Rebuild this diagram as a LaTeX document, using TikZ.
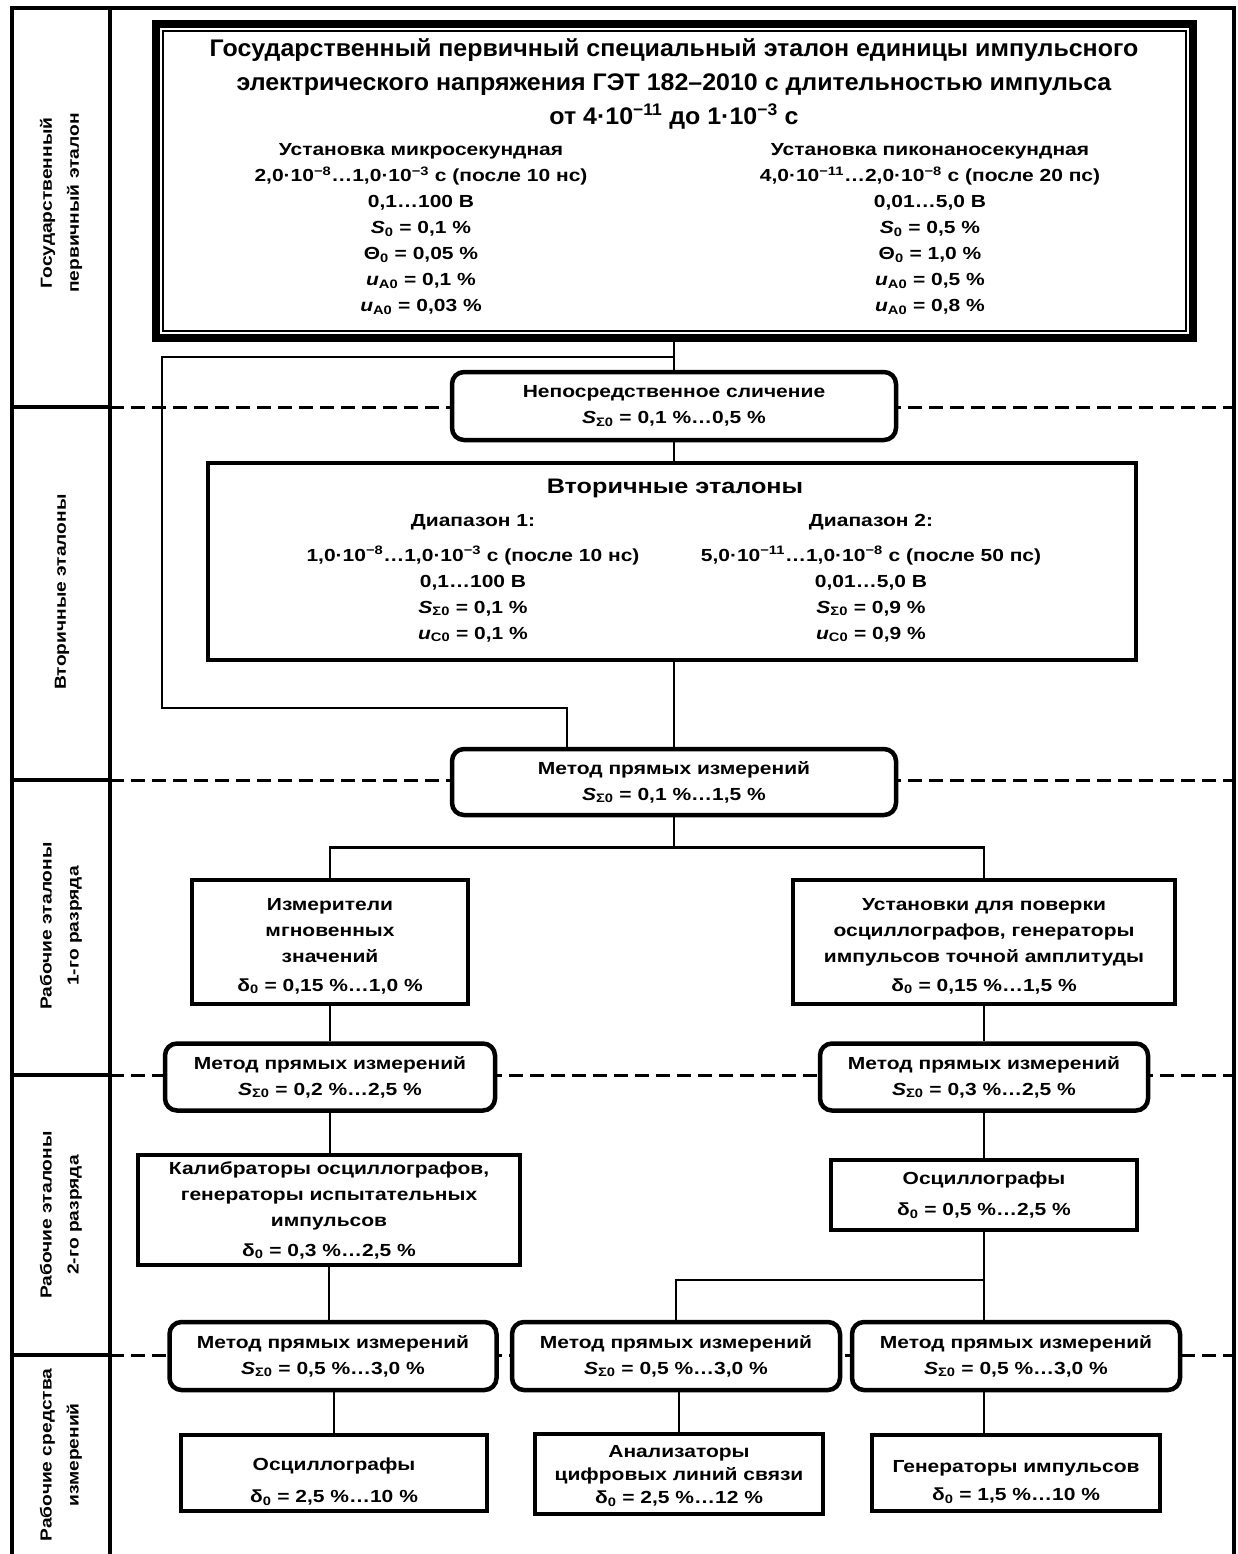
\documentclass[tikz,border=0pt]{standalone}
\usepackage{fontspec}
\setmainfont{Liberation Sans}[FakeStretch=1.2]
\newfontfamily\mytitlefont{Liberation Sans}[FakeStretch=1.04]
\newcommand\myTitle{\mytitlefont\fontsize{24}{34}\selectfont}
\newcommand\mySub{\fontsize{17.5}{26}\selectfont}
\newcommand\myBox{\fontsize{17.5}{26}\selectfont}
\newcommand\myBig{\fontsize{21}{26}\selectfont}
\newcommand\myLab{\fontsize{16}{27}\selectfont}
\newcommand\mysb[1]{\textsubscript{#1}}
\newcommand\mysp[1]{\textsuperscript{#1}}
\newcommand\mySS{\textit{S}\mysb{Σ0}}
\newcommand\mydO{δ\mysb{0}}
\begin{document}
\begin{tikzpicture}[x=1pt,y=-1pt,
  every node/.style={font=\bfseries},
  box/.style={draw, line width=4pt, fill=white, inner sep=0pt, align=center},
  rbox/.style={box, line width=4.5pt, rounded corners=12pt},
  txt/.style={align=center, inner sep=0pt},
  conn/.style={line width=2.5pt},
  sepline/.style={line width=3pt, dash pattern=on 14pt off 7pt},
  frame/.style={line width=4.5pt},
  lab/.style={rotate=90, align=center, font=\bfseries\myLab},
]
\useasboundingbox (0,0) rectangle (1238,1554);

% dashed level separators
\foreach \yy in {407,780,1075,1355}{
  \draw[sepline] (110,\yy) -- (1234,\yy);
  \draw[frame] (12,\yy) -- (110,\yy);
}
% frame
\draw[frame] (12,1554) -- (12,8) -- (1234,8) -- (1234,1554);
\draw[frame] (110,8) -- (110,1554);

% level labels
\node[lab] (l1) at (61,203) {Государственный\\первичный эталон};
\node[lab] (l2) at (62,592) {Вторичные эталоны};
\node[lab] (l3) at (61,926) {Рабочие эталоны\\1-го разряда};
\node[lab] (l4) at (61,1215) {Рабочие эталоны\\2-го разряда};
\node[lab] (l5) at (61,1455) {Рабочие средства\\измерений};

% primary standard
\node[draw, line width=8pt, fill=white, minimum width=1037pt, minimum height=314pt, inner sep=0pt] (main) at (674.5,181) {};
\draw[line width=2pt] ([shift={(11,11)}]main.north west) rectangle ([shift={(-11,-11)}]main.south east);
\node[align=center, font=\bfseries\myTitle] (title) at (674,84)
 {Государственный первичный специальный эталон единицы импульсного\\
  электрического напряжения ГЭТ 182–2010 с длительностью импульса\\
  от 4·10\mysp{−11} до 1·10\mysp{−3} с};
\node[align=center, font=\bfseries\mySub] (pl) at (421,229)
 {Установка микросекундная\\
  2,0·10\mysp{−8}…1,0·10\mysp{−3} с (после 10 нс)\\
  0,1…100 В\\
  \textit{S}\mysb{0} = 0,1 \%\\
  Θ\mysb{0} = 0,05 \%\\
  \textit{u}\mysb{A0} = 0,1 \%\\
  \textit{u}\mysb{A0} = 0,03 \%};
\node[align=center, font=\bfseries\mySub] (pr) at (930,229)
 {Установка пиконаносекундная\\
  4,0·10\mysp{−11}…2,0·10\mysp{−8} с (после 20 пс)\\
  0,01…5,0 В\\
  \textit{S}\mysb{0} = 0,5 \%\\
  Θ\mysb{0} = 1,0 \%\\
  \textit{u}\mysb{A0} = 0,5 \%\\
  \textit{u}\mysb{A0} = 0,8 \%};

% direct comparison
\node[rbox, minimum width=444pt, minimum height=68pt, font=\bfseries\myBox] (nep) at (674,406)
 {Непосредственное сличение\\ \mySS{} = 0,1 \%…0,5 \%};

% secondary standards
\node[box, minimum width=928pt, minimum height=197pt] (sec) at (672,561.5) {};
\node[font=\bfseries\myBig] (sect) at (675,488) {Вторичные эталоны};
\node[align=center, font=\bfseries\mySub] (r1) at (473,578)
 {Диапазон 1:\\[9pt]
  1,0·10\mysp{−8}…1,0·10\mysp{−3} с (после 10 нс)\\
  0,1…100 В\\
  \mySS{} = 0,1 \%\\
  \textit{u}\mysb{C0} = 0,1 \%};
\node[align=center, font=\bfseries\mySub] (r2) at (871,578)
 {Диапазон 2:\\[9pt]
  5,0·10\mysp{−11}…1,0·10\mysp{−8} с (после 50 пс)\\
  0,01…5,0 В\\
  \mySS{} = 0,9 \%\\
  \textit{u}\mysb{C0} = 0,9 \%};

% method 1
\node[rbox, minimum width=444pt, minimum height=66pt, font=\bfseries\myBox] (m1) at (674,782)
 {Метод прямых измерений\\ \mySS{} = 0,1 \%…1,5 \%};

% working standards 1st grade
\node[box, minimum width=276pt, minimum height=124pt] (izm) at (330,942) {};
\node[txt, font=\bfseries\mySub] (izmt) at ([yshift=-4]izm.center)
 {Измерители\\мгновенных\\значений\\[3pt] \mydO{} = 0,15 \%…1,0 \%};
\node[box, minimum width=382pt, minimum height=124pt] (ust) at (984,942) {};
\node[txt, font=\bfseries\mySub] (ustt) at ([yshift=-4]ust.center)
 {Установки для поверки\\осциллографов, генераторы\\импульсов точной амплитуды\\[3pt] \mydO{} = 0,15 \%…1,5 \%};

\node[rbox, minimum width=330pt, minimum height=67pt, font=\bfseries\myBox] (m2l) at (330,1077)
 {Метод прямых измерений\\ \mySS{} = 0,2 \%…2,5 \%};
\node[rbox, minimum width=328pt, minimum height=67pt, font=\bfseries\myBox] (m2r) at (984,1077)
 {Метод прямых измерений\\ \mySS{} = 0,3 \%…2,5 \%};

% working standards 2nd grade
\node[box, minimum width=382pt, minimum height=110pt, font=\bfseries\mySub] (kal) at (329,1210)
 {Калибраторы осциллографов,\\генераторы испытательных\\импульсов\\[4pt] \mydO{} = 0,3 \%…2,5 \%};
\node[box, minimum width=306pt, minimum height=70pt, font=\bfseries\mySub] (osc1) at (984,1195)
 {Осциллографы\\[5pt] \mydO{} = 0,5 \%…2,5 \%};

\node[rbox, minimum width=327pt, minimum height=68pt, font=\bfseries\myBox] (m3l) at (333,1356)
 {Метод прямых измерений\\ \mySS{} = 0,5 \%…3,0 \%};
\node[rbox, minimum width=328pt, minimum height=68pt, font=\bfseries\myBox] (m3m) at (676,1356)
 {Метод прямых измерений\\ \mySS{} = 0,5 \%…3,0 \%};
\node[rbox, minimum width=328pt, minimum height=68pt, font=\bfseries\myBox] (m3r) at (1016,1356)
 {Метод прямых измерений\\ \mySS{} = 0,5 \%…3,0 \%};

% working measuring instruments
\node[box, minimum width=306pt, minimum height=76pt] (b1) at (334,1473) {};
\node[txt, font=\bfseries\mySub] (b1t) at ([yshift=-9]b1.center)
 {Осциллографы\\[6pt] \mydO{} = 2,5 \%…10 \%};
\node[box, minimum width=288pt, minimum height=80pt] (b2) at (679,1474) {};
\node[txt, font=\bfseries\fontsize{17.5}{23}\selectfont] (b2t) at ([yshift=-2]b2.center)
 {Анализаторы\\цифровых линий связи\\ \mydO{} = 2,5 \%…12 \%};
\node[box, minimum width=288pt, minimum height=76pt] (b3) at (1016,1473) {};
\node[txt, font=\bfseries\fontsize{17.5}{28}\selectfont] (b3t) at ([yshift=-9]b3.center)
 {Генераторы импульсов\\ \mydO{} = 1,5 \%…10 \%};

% connectors
\coordinate (br) at (nep.north |- 0,357);
\draw[conn] (main.south -| nep.north) -- (nep.north);
\draw[conn] (br) -| (162,708) -| ([xshift=-107pt]m1.north);
\draw[conn] (nep.south) -- (nep.south |- sec.north);
\draw[conn] (sec.south -| m1.north) -- (m1.north);
\draw[conn] (m1.south) -- ++(0,30) coordinate (j1);
\draw[conn] (izm.north) |- (j1) -| (ust.north);
\draw[conn] (izm.south) -- (izm.south |- m2l.north);
\draw[conn] (ust.south) -- (ust.south |- m2r.north);
\draw[conn] (m2l.south) -- (m2l.south |- kal.north);
\draw[conn] (m2r.south) -- (m2r.south |- osc1.north);
\draw[conn] (kal.south) -- (kal.south |- m3l.north);
\draw[conn] (osc1.south) -- (osc1.south |- m3r.north);
\draw[conn] (osc1.south) ++(0,48) coordinate (j2) -| (m3m.north);
\draw[conn] (m3l.south -| b1.north) -- (b1.north);
\draw[conn] (m3m.south -| b2.north) -- (b2.north);
\draw[conn] (osc1.south |- m3r.south) -- (osc1.south |- b3.north);
\end{tikzpicture}
\end{document}
